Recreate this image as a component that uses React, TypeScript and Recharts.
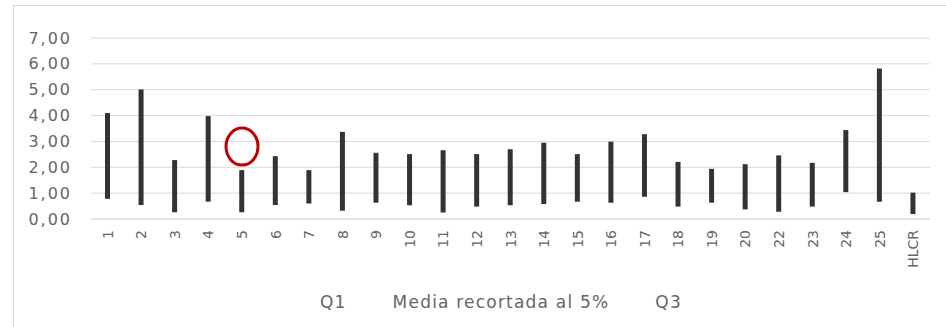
import React from 'react';
import { BarChart, Bar, XAxis, YAxis, CartesianGrid, Legend, ReferenceDot } from 'recharts';

const categories = ['1', '2', '3', '4', '5', '6', '7', '8', '9', '10', '11', '12', '13', '14', '15', '16', '17', '18', '19', '20', '22', '23', '24', '25', 'HLCR'];
const q1 = [0.78, 0.54, 0.26, 0.67, 0.26, 0.54, 0.6, 0.32, 0.63, 0.53, 0.25, 0.48, 0.53, 0.58, 0.67, 0.63, 0.86, 0.48, 0.63, 0.37, 0.28, 0.48, 1.04, 0.67, 0.19];
const q3 = [4.1, 5.01, 2.28, 3.98, 1.89, 2.43, 1.89, 3.37, 2.56, 2.51, 2.66, 2.51, 2.7, 2.95, 2.51, 2.99, 3.28, 2.21, 1.94, 2.12, 2.46, 2.17, 3.44, 5.82, 1.02];
const yTicks = [0, 1, 2, 3, 4, 5, 6, 7];
const legendNames = ['Q1', 'Media recortada al 5%', 'Q3'];
// highlighted category (red ellipse annotation)
const markCategory = '5';
const markValue = 2.8;

const FONT = '"DejaVu Sans", sans-serif';
const TEXT = '#666';

const data = categories.map((c, i) => ({ cat: c, range: [q1[i], q3[i]] }));

const fmt = (v: number) => v.toFixed(2).replace('.', ',');

function XTick({ x, y, payload }: any) {
  return (
    <text transform={`translate(${x},${y + 11}) rotate(-90)`} textAnchor="end" dominantBaseline="central"
      fontFamily={FONT} fontSize={14} fill={TEXT}>
      {payload.value}
    </text>
  );
}

function YTick({ x, y, payload }: any) {
  return (
    <text x={x} y={y} textAnchor="end" dominantBaseline="central" fontFamily={FONT} fontSize={16}
      letterSpacing={2} fill={TEXT}>
      {fmt(payload.value)}
    </text>
  );
}

const LegendText = () => (
  <div style={{ display: 'flex', gap: 46, paddingLeft: 320, fontFamily: FONT, fontSize: 17, letterSpacing: 1.2, color: TEXT, lineHeight: '24px' }}>
    {legendNames.map(n => <span key={n}>{n}</span>)}
  </div>
);

const Ellipse = ({ cx, cy }: any) => (
  <ellipse cx={cx} cy={cy} rx={16} ry={18.5} fill="none" stroke="#c00000" strokeWidth={3} />
);

export default function App() {
  return (
    <div style={{ position: 'absolute', left: 0, top: 0, width: 946, height: 327, background: '#fff' }}>
      <div style={{ position: 'absolute', left: 13, top: 5, right: 0, bottom: 0, borderLeft: '1px solid #d9d9d9', borderTop: '1px solid #d9d9d9' }} />
      <BarChart width={946} height={327} data={data} margin={{ top: 38, right: 16, left: 0, bottom: 13 }}>
        <CartesianGrid vertical={false} stroke="#d9d9d9" />
        <XAxis dataKey="cat" interval={0} height={71} tickLine={false} tickSize={0} tickMargin={0}
          axisLine={{ stroke: '#d9d9d9' }} tick={<XTick />} />
        <YAxis domain={[0, 7]} ticks={yTicks} width={91} axisLine={false} tickLine={false} tickSize={0}
          tickMargin={19} tick={<YTick />} />
        <Legend verticalAlign="bottom" height={24} content={<LegendText />}
          wrapperStyle={{ left: 0, width: 946 }} />
        <Bar dataKey="range" barSize={5} fill="#333" isAnimationActive={false} />
        <ReferenceDot x={markCategory} y={markValue} r={18} shape={<Ellipse />} ifOverflow="visible" />
      </BarChart>
    </div>
  );
}
